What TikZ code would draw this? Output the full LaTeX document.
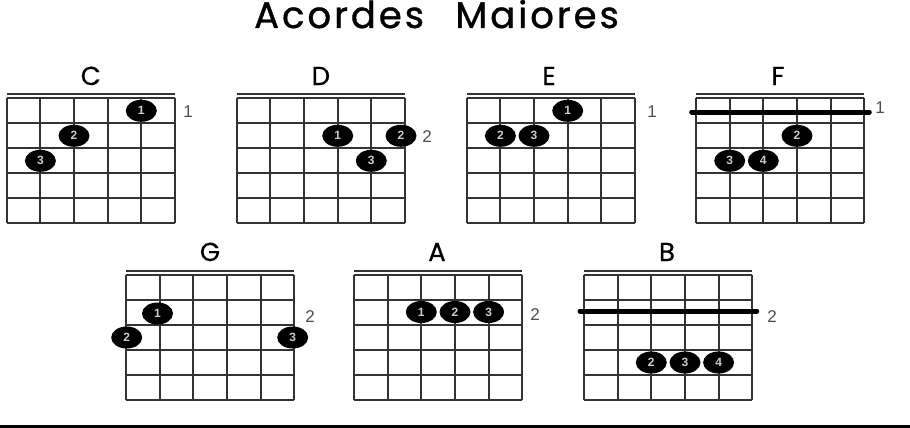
\documentclass[tikz,border=0pt]{standalone}
\usepackage{fontspec}
\setmainfont{Liberation Sans}
\newfontfamily\titlefont[LetterSpace=8,FakeBold=1]{Poppins}
\newfontfamily\namefont[FakeBold=0.6]{Poppins}
\usetikzlibrary{shapes.geometric}
\newcommand\fretgrid[2]{%
  \foreach \i in {0,...,5} {\draw[gridline] ({#1+\i*33.66},#2) -- ({#1+\i*33.66},{#2+125});}
  \foreach \j in {0,...,5} {\draw[gridline] (#1,{#2+\j*25}) -- ({#1+168.3},{#2+\j*25});}
  \draw[nutline] (#1,{#2-4}) -- ({#1+168.3},{#2-4});
}
\begin{document}
\begin{tikzpicture}[x=1pt,y=-1pt,
  gridline/.style={line width=1.8pt,draw=black!80},
  nutline/.style={line width=1.8pt,draw=black!80},
  finger/.style={ellipse,fill=black,minimum width=31pt,minimum height=22pt,inner sep=0pt,
    text=white!80!black,font=\bfseries\fontsize{12}{12}\selectfont},
  fretno/.style={text=black!70,font=\fontsize{17}{17}\selectfont,inner sep=0pt},
  chordname/.style={anchor=base,inner sep=0pt,font=\namefont\fontsize{26}{26}\selectfont},
  barre/.style={line width=5pt,line cap=round,draw=black}]
\useasboundingbox (0,0) rectangle (910,428);
\node[anchor=base,inner sep=0pt,font=\titlefont\fontsize{37}{37}\selectfont] (title) at (436.5,28) {Acordes\hspace{0.5em} Maiores};
% top row grids
\fretgrid{6.7}{98.3}
\fretgrid{236.7}{98.3}
\fretgrid{466.7}{98.3}
\fretgrid{696}{98.3}
% bottom row grids
\fretgrid{126}{275}
\fretgrid{354}{275}
\fretgrid{584}{275}
% names
\node[chordname] (nC) at (90.8,85) {C};
\node[chordname] (nD) at (320.8,85) {D};
\node[chordname] (nE) at (549,85) {E};
\node[chordname] (nF) at (778,85) {F};
\node[chordname] (nG) at (210,261) {G};
\node[chordname] (nA) at (437,261) {A};
\node[chordname] (nB) at (667,261) {B};
% barres
\coordinate (fbL) at (691.7,112);
\coordinate (fbR) at (869.3,112);
\draw[barre] (fbL) -- (fbR);
\coordinate (bbL) at (580,311);
\coordinate (bbR) at (756.7,311);
\draw[barre] (bbL) -- (bbR);
% fingers C
\node[finger] (c1) at (141.3,110.8) {1};
\node[finger] (c2) at (74.0,135.8) {2};
\node[finger] (c3) at (40.4,160.8) {3};
% D
\node[finger] (d1) at (337.7,135.8) {1};
\node[finger] (d2) at (401,135.8) {2};
\node[finger] (d3) at (371.3,160.8) {3};
% E
\node[finger] (e1) at (567.7,110.8) {1};
\node[finger] (e2) at (500.4,135.8) {2};
\node[finger] (e3) at (534.0,135.8) {3};
% F
\node[finger] (f2) at (797,135.8) {2};
\node[finger] (f3) at (729.7,160.8) {3};
\node[finger] (f4) at (763.3,160.8) {4};
% G
\node[finger] (g1) at (157.5,313.5) {1};
\node[finger] (g2) at (126.7,337.5) {2};
\node[finger] (g3) at (292.7,337.5) {3};
% A
\node[finger] (a1) at (421.3,312) {1};
\node[finger] (a2) at (455,312) {2};
\node[finger] (a3) at (488.6,312) {3};
% B
\node[finger] (b2) at (651.3,362.5) {2};
\node[finger] (b3) at (685,362.5) {3};
\node[finger] (b4) at (718.6,362.5) {4};
% fret numbers
\node[fretno] (lC) at (188,112) {1};
\node[fretno] (lD) at (427,137) {2};
\node[fretno] (lE) at (652,112) {1};
\node[fretno] (lF) at (880,108) {1};
\node[fretno] (lG) at (310,317) {2};
\node[fretno] (lA) at (535,315) {2};
\node[fretno] (lB) at (772,317) {2};
% bottom rule
\coordinate (ruleL) at (0,426.5);
\coordinate (ruleR) at (910,426.5);
\draw[line width=3pt] (ruleL) -- (ruleR);
\end{tikzpicture}
\end{document}
